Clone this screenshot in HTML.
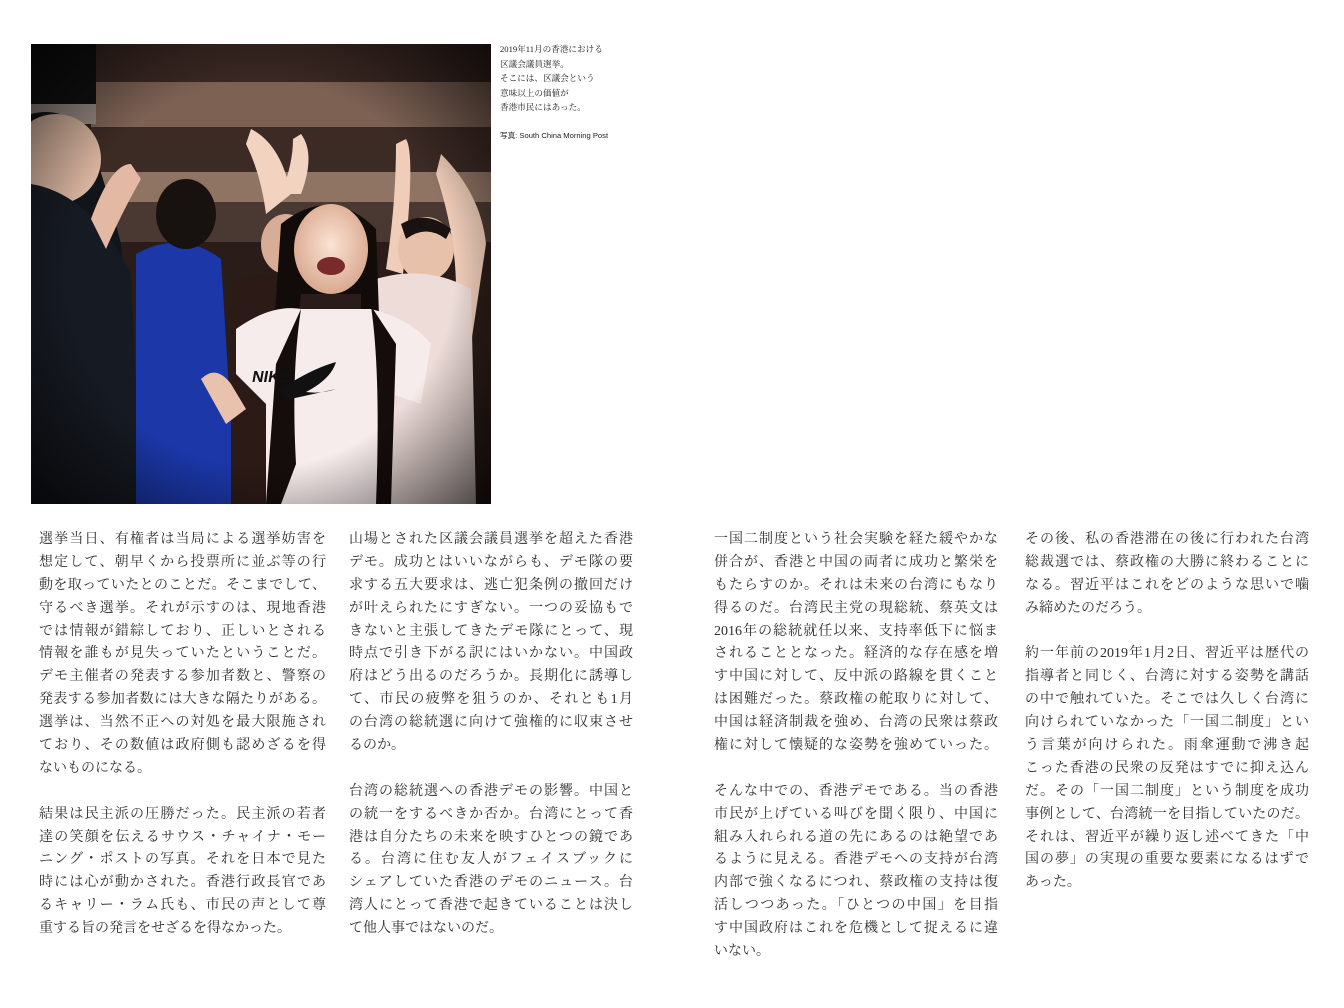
<!DOCTYPE html>
<html><head><meta charset="utf-8">
<style>
html,body{margin:0;padding:0;background:#fff;}
body{width:1344px;height:1008px;position:relative;overflow:hidden;font-family:"Liberation Serif","Noto Serif CJK JP","Noto Serif CJK SC",serif;color:#2e2e2e;}
.col{position:absolute;top:529px;font-size:14px;line-height:22.9px;}
.ln{white-space:nowrap;height:22.9px;letter-spacing:0;}
.ln.j{text-align:justify;text-align-last:justify;white-space:normal;overflow:hidden;}
.cap{position:absolute;left:500px;top:42px;font-size:8.6px;line-height:14.5px;color:#222;}
#photo{position:absolute;left:31px;top:44px;width:460px;height:460px;}
</style></head><body>
<svg id="photo" viewBox="0 0 460 460" width="460" height="460">
<defs>
<radialGradient id="vig" cx="50%" cy="50%" r="70%"><stop offset="60%" stop-color="#000" stop-opacity="0"/><stop offset="100%" stop-color="#000" stop-opacity="0.7"/></radialGradient>
<radialGradient id="face" cx="50%" cy="45%" r="55%"><stop offset="0%" stop-color="#fbe3d3"/><stop offset="100%" stop-color="#d9a98f"/></radialGradient>
</defs>
<rect width="460" height="460" fill="#2a1c18"/>
<rect x="60" y="0" width="400" height="40" fill="#3a2823"/>
<rect x="60" y="38" width="400" height="45" fill="#7d6254"/>
<rect x="60" y="83" width="400" height="45" fill="#3c2a25"/>
<rect x="60" y="128" width="400" height="30" fill="#8f7464"/>
<rect x="60" y="158" width="400" height="40" fill="#4a3832"/>
<rect x="0" y="0" width="65" height="60" fill="#111"/>
<rect x="0" y="60" width="65" height="20" fill="#9a8a84"/>
<path d="M0,70 Q40,60 60,100 Q75,140 90,200 L110,460 L0,460 Z" fill="#111418"/>
<ellipse cx="25" cy="115" rx="45" ry="45" fill="#d7b39e"/>
<path d="M0,140 Q60,150 100,230 L110,460 L0,460 Z" fill="#161a22"/>
<path d="M105,210 Q150,185 190,215 L205,460 L105,460 Z" fill="#1b37a8"/>
<ellipse cx="155" cy="170" rx="30" ry="35" fill="#17120f"/>
<path d="M60,175 Q80,120 100,120 L110,135 Q90,170 75,205 Z" fill="#e3b9a3"/>
<path d="M220,85 Q250,100 260,150 L235,170 Q230,130 215,100 Z" fill="#f2d3c0"/>
<path d="M270,90 Q285,110 270,150 L250,150 Q262,120 262,95 Z" fill="#f2d3c0"/>
<path d="M375,95 Q385,110 372,230 L355,225 Q365,160 365,100 Z" fill="#f0cdb9"/>
<path d="M410,110 Q450,150 455,200 L440,300 L420,300 Q435,220 405,130 Z" fill="#f0cdb9"/>
<ellipse cx="395" cy="205" rx="28" ry="32" fill="#e8c1aa"/>
<path d="M370,180 Q395,165 420,185 L415,195 Q395,180 375,195 Z" fill="#1a1210"/>
<path d="M345,235 Q395,220 440,245 L445,460 L345,460 Z" fill="#eddcd8"/>
<ellipse cx="255" cy="200" rx="25" ry="30" fill="#d8ad97"/>
<path d="M200,240 Q250,215 270,260 L250,460 L200,460 Z" fill="#2b1a15"/>
<path d="M250,180 Q300,140 345,185 L350,330 L330,330 L330,250 L270,250 L260,330 L240,330 Z" fill="#110b09"/>
<ellipse cx="300" cy="205" rx="37" ry="45" fill="url(#face)"/>
<ellipse cx="300" cy="222" rx="14" ry="9" fill="#7a2a2a"/>
<path d="M205,285 Q240,260 270,265 L340,265 Q380,275 400,300 L390,360 L360,350 L360,460 L235,460 L235,360 L205,330 Z" fill="#f6eceb"/>
<path d="M270,265 Q260,330 265,420 L250,460 L235,460 L245,320 Z" fill="#150d0b"/>
<path d="M340,262 Q350,330 345,460 L360,460 L365,300 Z" fill="#150d0b"/>
<path d="M250,345 Q280,325 305,318 Q300,335 275,348 Q290,350 305,345 L255,356 Z" fill="#111"/>
<text x="280" y="338" font-family="Liberation Sans, sans-serif" font-weight="bold" font-size="16" fill="#111" transform="skewX(-10)">NIKE</text>
<path d="M170,335 Q185,320 200,340 L215,365 L195,380 Z" fill="#e8c2ad"/>
<rect width="460" height="460" fill="url(#vig)"/>
</svg>

<div class="cap">
<div>2019年11月の香港における</div>
<div>区議会議員選挙。</div>
<div>そこには、区議会という</div>
<div>意味以上の価値が</div>
<div>香港市民にはあった。</div>
<div>&nbsp;</div>
<div style="font-family:'Liberation Sans','Noto Sans CJK JP',sans-serif;font-size:7.6px;">写真: South China Morning Post</div>
</div>

<div id="cols"></div>
<script>
var columns=[
 {x:39,w:287,name:'column-1',paras:[
  ['選挙当日、有権者は当局による選挙妨害を','想定して、朝早くから投票所に並ぶ等の行','動を取っていたとのことだ。そこまでして、','守るべき選挙。それが示すのは、現地香港','では情報が錯綜しており、正しいとされる','情報を誰もが見失っていたということだ。','デモ主催者の発表する参加者数と、警察の','発表する参加者数には大きな隔たりがある。','選挙は、当然不正への対処を最大限施され','ており、その数値は政府側も認めざるを得','ないものになる。'],
  ['結果は民主派の圧勝だった。民主派の若者','達の笑顔を伝えるサウス・チャイナ・モー','ニング・ポストの写真。それを日本で見た','時には心が動かされた。香港行政長官であ','るキャリー・ラム氏も、市民の声として尊','重する旨の発言をせざるを得なかった。']]},
 {x:349,w:284,name:'column-2',paras:[
  ['山場とされた区議会議員選挙を超えた香港','デモ。成功とはいいながらも、デモ隊の要','求する五大要求は、逃亡犯条例の撤回だけ','が叶えられたにすぎない。一つの妥協もで','きないと主張してきたデモ隊にとって、現','時点で引き下がる訳にはいかない。中国政','府はどう出るのだろうか。長期化に誘導し','て、市民の疲弊を狙うのか、それとも1月','の台湾の総統選に向けて強権的に収束させ','るのか。'],
  ['台湾の総統選への香港デモの影響。中国と','の統一をするべきか否か。台湾にとって香','港は自分たちの未来を映すひとつの鏡であ','る。台湾に住む友人がフェイスブックに','シェアしていた香港のデモのニュース。台','湾人にとって香港で起きていることは決し','て他人事ではないのだ。']]},
 {x:714,w:284,name:'column-3',paras:[
  ['一国二制度という社会実験を経た緩やかな','併合が、香港と中国の両者に成功と繁栄を','もたらすのか。それは未来の台湾にもなり','得るのだ。台湾民主党の現総統、蔡英文は','2016年の総統就任以来、支持率低下に悩ま','されることとなった。経済的な存在感を増','す中国に対して、反中派の路線を貫くこと','は困難だった。蔡政権の舵取りに対して、','中国は経済制裁を強め、台湾の民衆は蔡政','権に対して懐疑的な姿勢を強めていった。'],
  ['そんな中での、香港デモである。当の香港','市民が上げている叫びを聞く限り、中国に','組み入れられる道の先にあるのは絶望であ','るように見える。香港デモへの支持が台湾','内部で強くなるにつれ、蔡政権の支持は復','活しつつあった。「ひとつの中国」を目指','す中国政府はこれを危機として捉えるに違','いない。']]},
 {x:1025,w:284,name:'column-4',paras:[
  ['その後、私の香港滞在の後に行われた台湾','総裁選では、蔡政権の大勝に終わることに','なる。習近平はこれをどのような思いで噛','み締めたのだろう。'],
  ['約一年前の2019年1月2日、習近平は歴代の','指導者と同じく、台湾に対する姿勢を講話','の中で触れていた。そこでは久しく台湾に','向けられていなかった「一国二制度」とい','う言葉が向けられた。雨傘運動で沸き起','こった香港の民衆の反発はすでに抑え込ん','だ。その「一国二制度」という制度を成功','事例として、台湾統一を目指していたのだ。','それは、習近平が繰り返し述べてきた「中','国の夢」の実現の重要な要素になるはずで','あった。']]}
];
var host=document.getElementById('cols');
columns.forEach(function(c){
  var d=document.createElement('div');
  d.className='col';
  d.style.left=c.x+'px';d.style.width=c.w+'px';
  
  
  c.paras.forEach(function(p,pi){
    if(pi>0){var b=document.createElement('div');b.className='ln';b.innerHTML='&nbsp;';d.appendChild(b);}
    p.forEach(function(t,li){
      var l=document.createElement('div');
      var full=(li<p.length-1)||t.length>=19;
      l.className='ln'+(full?' j':'');
      l.textContent=t;
      d.appendChild(l);
    });
  });
  host.appendChild(d);
});
</script>
</body></html>
